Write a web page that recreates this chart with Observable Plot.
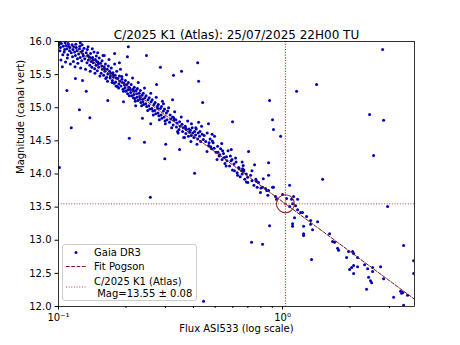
<!DOCTYPE html>
<html>
<head>
<meta charset="utf-8">
<script src="https://cdn.jsdelivr.net/npm/d3@7"></script>
<script src="https://cdn.jsdelivr.net/npm/@observablehq/plot@0.6"></script>
<style>
  body { margin: 0; background: white; }
  #wrap { position: relative; width: 460px; height: 345px; font-family: "DejaVu Sans", sans-serif; }
  #legend { position: absolute; left: 62px; top: 244px; }
</style>
</head>
<body>
<div id="wrap"></div>
<script>
// ---- text ----
const title = "C/2025 K1 (Atlas): 25/07/2025 22H00 TU";
const xLabel = "Flux ASI533 (log scale)";
const yLabel = "Magnitude (canal vert)";
const legendLabels = ["Gaia DR3", "Fit Pogson", "C/2025 K1 (Atlas)", " Mag=13.55 ± 0.08"];

// ---- ticks ----
const xMajor = [0.1, 1];
const xMajorLabels = ["10⁻¹", "10⁰"];
const xMinor = [0.2, 0.3, 0.4, 0.5, 0.6, 0.7, 0.8, 0.9, 2, 3];
const yTicks = [12, 12.5, 13, 13.5, 14, 14.5, 15, 15.5, 16];

// ---- comet ----
const cometFlux = 1.03;
const cometMag = 13.55;
const cometErr = 0.08;

// ---- Pogson fit line (end points) ----
const fitFlux = [0.1, 3.88];
const fitMag = [16.08, 12.11];

// ---- Gaia DR3 stars: [flux, magnitude] ----
const gaiaBand = [
 [0.1005,15.95],[0.1010,15.99],[0.1020,15.91],[0.1015,15.86],[0.1030,15.97],
 [0.1050,15.93],[0.1065,15.88],[0.1070,15.98],[0.1060,15.84],[0.1080,15.94],
 [0.1090,15.89],[0.1100,15.80],[0.1110,15.93],[0.1120,15.86],[0.1105,15.97],[0.1125,15.91],
 [0.1140,15.83],[0.1150,15.95],[0.1160,15.88],[0.1155,15.77],[0.1170,15.92],
 [0.1180,15.84],[0.1190,15.79],[0.1200,15.91],[0.1210,15.86],[0.1215,15.74],[0.1195,15.96],
 [0.1230,15.81],[0.1240,15.89],[0.1250,15.76],[0.1245,15.93],[0.1260,15.84],
 [0.1270,15.71],[0.1280,15.86],[0.1290,15.78],[0.1300,15.90],[0.1310,15.74],[0.1285,15.81],
 [0.1330,15.83],[0.1340,15.68],[0.1350,15.79],[0.1360,15.72],[0.1345,15.88],
 [0.1370,15.77],[0.1380,15.64],[0.1390,15.82],[0.1400,15.70],[0.1395,15.75],
 [0.1410,15.61],[0.1420,15.76],[0.1430,15.68],[0.1440,15.84],[0.1425,15.72],
 [0.1450,15.59],[0.1460,15.73],[0.1470,15.64],[0.1480,15.70],[0.1475,15.78],
 [0.1490,15.56],[0.1500,15.69],[0.1510,15.61],[0.1520,15.75],[0.1505,15.66],
 [0.1540,15.67],[0.1550,15.52],[0.1560,15.63],[0.1570,15.58],[0.1565,15.71],
 [0.1590,15.49],[0.1600,15.62],[0.1610,15.55],[0.1620,15.66],[0.1605,15.59],
 [0.1640,15.46],[0.1650,15.58],[0.1660,15.51],[0.1670,15.63],[0.1655,15.40],
 [0.1690,15.55],[0.1700,15.45],[0.1710,15.52],[0.1720,15.60],[0.1705,15.48],
 [0.1740,15.41],[0.1750,15.53],[0.1760,15.46],[0.1770,15.37],[0.1755,15.50],
 [0.1790,15.49],[0.1800,15.39],[0.1810,15.45],[0.1820,15.55],[0.1805,15.33],
 [0.1840,15.44],[0.1860,15.36],[0.1870,15.48],[0.1880,15.40],[0.1855,15.30],
 [0.1900,15.33],[0.1920,15.43],[0.1930,15.38],[0.1940,15.28],[0.1915,15.47],
 [0.1960,15.37],[0.1980,15.30],[0.1990,15.41],[0.2000,15.25],[0.1975,15.34],
 [0.2020,15.35],[0.2040,15.27],[0.2050,15.38],[0.2060,15.31],[0.2035,15.21],
 [0.2080,15.30],[0.2100,15.23],[0.2110,15.35],[0.2120,15.18],[0.2095,15.27],
 [0.2150,15.28],[0.2170,15.20],[0.2180,15.31],[0.2190,15.14],[0.2165,15.25],
 [0.2220,15.26],[0.2240,15.16],[0.2250,15.29],[0.2260,15.11],[0.2235,15.21],
 [0.2290,15.22],[0.2310,15.13],[0.2320,15.26],[0.2330,15.08],[0.2305,15.17],
 [0.2360,15.19],[0.2380,15.09],[0.2390,15.22],[0.2400,15.05],[0.2375,15.13],
 [0.2430,15.15],[0.2450,15.06],[0.2460,15.18],[0.2475,15.02],
 [0.2510,15.12],[0.2530,15.03],[0.2540,15.15],[0.2555,14.98],
 [0.2590,15.09],[0.2610,14.99],[0.2620,15.12],[0.2635,14.95],
 [0.2670,15.05],[0.2690,14.96],[0.2700,15.08],[0.2715,14.91],
 [0.2760,15.02],[0.2780,14.92],[0.2790,15.05],[0.2805,14.88],
 [0.2850,14.99],[0.2870,14.89],[0.2880,15.02],[0.2895,14.84],
 [0.2940,14.95],[0.2960,14.86],[0.2975,14.98],[0.2990,14.80],
 [0.3030,14.92],[0.3050,14.82],[0.3070,14.95],
 [0.3130,14.78],[0.3150,14.89],[0.3170,14.83],
 [0.3230,14.86],[0.3250,14.74],[0.3270,14.81],
 [0.3340,14.82],[0.3360,14.71],[0.3380,14.77],
 [0.3450,14.67],[0.3470,14.79],[0.3490,14.72],
 [0.3560,14.75],[0.3580,14.64],[0.3600,14.70],
 [0.3680,14.72],[0.3700,14.61],[0.3720,14.67],
 [0.3800,14.57],[0.3820,14.68],[0.3840,14.63],
 [0.388,14.66],[0.391,14.58],[0.395,14.70],[0.397,14.62],[0.402,14.55],[0.405,14.64],[0.409,14.59],[0.412,14.68],
 [0.418,14.53],[0.420,14.62],[0.426,14.57],[0.431,14.49],[0.438,14.60],[0.443,14.52],[0.392,14.76],[0.410,14.70],
 [0.428,14.64],[0.447,14.58],
 [0.454,14.49],[0.461,14.62],[0.468,14.43],[0.475,14.53],[0.482,14.38],[0.490,14.47],[0.497,14.57],[0.505,14.33],
 [0.513,14.42],[0.521,14.27],[0.529,14.38],[0.537,14.22],[0.545,14.31],[0.553,14.16],[0.562,14.26],[0.571,14.35],
 [0.580,14.12],[0.589,14.20],[0.598,14.06],[0.607,14.15],[0.617,14.24],[0.627,14.02],[0.637,14.10],[0.647,13.96],
 [0.657,14.05],[0.667,14.13],[0.678,13.92],[0.689,14.00],[0.700,13.87],
 [0.470,14.47],[0.478,14.41],[0.486,14.50],[0.495,14.39],[0.515,14.33],[0.525,14.29],[0.540,14.35],[0.550,14.25],
 [0.565,14.20],[0.585,14.27],[0.595,14.22],[0.610,14.05],[0.620,14.18],[0.640,14.08],[0.660,14.00],[0.672,14.06],
 [0.663,14.08],[0.670,14.04],[0.698,13.95],[0.720,13.98],[0.765,13.89],[0.781,13.87],[0.814,13.80],[0.839,13.78],
 [0.911,13.80],[0.866,13.75],[0.940,13.62],[0.730,13.90],[0.745,13.83],[0.760,13.92],[0.800,13.79],[0.850,13.75]
];
const gaiaBandWide = [
 [0.1025,15.72],[0.1045,15.80],[0.1075,15.69],[0.1095,15.75],[0.1130,15.66],[0.1165,15.70],[0.1185,15.62],[0.1220,15.67],
 [0.1255,15.60],[0.1275,15.95],[0.1320,15.58],[0.1355,15.92],[0.1385,15.55],[0.1415,15.89],[0.1455,15.52],[0.1495,15.83],
 [0.1530,15.48],[0.1580,15.79],[0.1625,15.44],[0.1680,15.73],[0.1735,15.38],[0.1780,15.66],[0.1830,15.32],[0.1890,15.58],
 [0.1950,15.25],[0.2010,15.50],[0.2070,15.18],[0.2140,15.45],[0.2200,15.10],[0.2270,15.38],[0.2350,15.03],[0.2420,15.30],
 [0.2500,14.96],[0.2580,15.22],[0.2650,14.89],[0.2730,15.16],[0.2820,14.82],[0.2910,15.10],[0.3000,14.76],[0.3100,15.00],
 [0.3200,14.70],[0.3300,14.94],[0.3420,14.62],[0.3530,14.86],[0.3650,14.55],[0.3770,14.80],[0.3900,14.49],[0.4150,14.45],
 [0.4350,14.72],[0.4600,14.34],[0.4850,14.60],[0.5100,14.22],[0.5350,14.46],[0.5600,14.12],[0.5900,14.37],[0.6300,13.98],
 [0.6600,14.18],[0.6900,13.88],[0.7300,14.05],[0.7700,13.80],[0.8200,13.93],[0.8600,13.68]
];
const gaiaNearComet = [
 [0.902,13.80],[0.930,13.66],[1.000,13.69],[1.042,13.63],[1.097,13.62],[1.120,13.66],[1.167,13.62],[1.108,13.55],
 [1.075,13.51],[1.143,13.52],[1.167,13.46],[1.203,13.42],[1.228,13.42],[1.131,13.34],[1.280,13.36],[1.108,13.25],
 [1.108,13.21],[1.241,13.21],[1.334,13.30],[1.334,13.24],[1.433,13.28],[1.361,13.16],[1.241,13.10],[1.241,13.07]
];
const gaiaRight = [
 [1.621,13.10],[1.672,12.98],[1.707,12.97],[1.760,12.88],[1.778,12.85],[1.931,12.74],[1.971,12.83],[2.054,12.83],
 [2.075,12.80],[2.162,12.74],[1.991,12.56],[2.033,12.59],[2.075,12.62],[2.162,12.60],[2.075,12.50],[2.323,12.63],
 [2.397,12.57],[2.522,12.59],[2.522,12.53],[2.738,12.60],[2.421,12.44],[2.470,12.39],[2.497,12.36],[2.825,12.42],
 [2.371,12.26],[3.130,12.14],[3.364,12.23],[3.400,12.20],[3.440,12.21],[3.614,12.17],[3.470,12.02]
];
const gaiaOutliers = [
 [0.125,15.98],[0.205,15.92],[0.203,15.77],[0.247,15.79],[0.178,15.82],[0.160,15.79],[0.187,15.68],[0.285,15.61],
 [0.326,15.49],[0.354,15.55],[0.104,15.62],[0.109,15.26],[0.119,15.44],[0.128,15.41],[0.133,15.25],[0.166,15.11],
 [0.138,14.85],[0.124,14.97],[0.114,14.70],[0.207,14.54],[0.242,14.48],[0.301,14.45],[0.347,14.37],[0.298,14.23],
 [0.195,15.09],[0.221,15.03],[0.237,14.84],[0.258,14.76],[0.277,14.99],[0.294,15.06],[0.323,15.12],[0.327,14.85],
 [0.340,14.64],[0.369,14.70],[0.362,14.55],[0.101,14.10],[0.257,13.65],[0.444,12.08],[0.274,15.35],[0.216,15.15],
 [0.418,15.68],[0.422,15.40],[0.440,15.08],[0.422,14.78],[0.467,14.76],[0.598,14.79],[0.705,14.34],[0.875,15.11],
 [0.902,14.82],[0.911,14.67],[0.980,14.57],[0.405,14.01],[0.750,14.14],[0.866,14.17],[0.866,13.98],[0.797,13.72],
 [0.875,13.22],[0.727,12.97],[0.814,12.94],[1.155,15.25],[1.418,15.35],[2.796,15.88],[2.445,14.90],[2.825,14.81],
 [2.548,14.28],[1.509,13.92],[2.943,13.51],[3.470,12.92],[3.845,12.69],[3.845,12.50],[1.347,12.71],[1.075,13.83]
];

const gaiaStars = [...gaiaBand, ...gaiaBandWide, ...gaiaNearComet, ...gaiaRight, ...gaiaOutliers];
const fitData = fitFlux.map((f, i) => ({f, m: fitMag[i]}));
const comet = [{f: cometFlux, m: cometMag}];

const xLabelMap = new Map(xMajor.map((v, i) => [v, xMajorLabels[i]]));
const fitColor = "#7a1c1c";
const dotColor = "#b8443a";

const chart = Plot.plot({
  width: 460,
  height: 345,
  marginLeft: 58,
  marginRight: 46,
  marginTop: 41,
  marginBottom: 39,
  x: {type: "log", domain: [0.1, 3.88]},
  y: {domain: [12, 16]},
  style: {fontFamily: "DejaVu Sans", fontSize: "10px", color: "black", background: "white"},
  marks: [
    Plot.dot(gaiaStars, {x: d => d[0], y: d => d[1], r: 1.5, fill: "#0000b4", clip: true}),
    Plot.line(fitData, {x: "f", y: "m", stroke: fitColor, strokeWidth: 1, strokeDasharray: "3.7,1.6", clip: true}),
    Plot.ruleX([cometFlux], {stroke: dotColor, strokeWidth: 1.2, strokeDasharray: "1.2,1.5"}),
    Plot.ruleY([cometMag], {stroke: dotColor, strokeWidth: 1, strokeDasharray: "1,1.65"}),
    Plot.dot(comet, {x: "f", y: "m", r: 9, stroke: "#8b2a2a", strokeWidth: 1.1, fill: "none"}),
    Plot.dot(comet, {x: "f", y: "m", r: 1.3, fill: "#a52a2a"}),
    Plot.frame({stroke: "black", strokeWidth: 0.8}),
    Plot.axisX(xMajor, {tickSize: 3.5, tickPadding: 3.5, tickFormat: d => xLabelMap.get(d), label: null}),
    Plot.axisX(xMinor, {tickSize: 2, tickFormat: () => "", label: null}),
    Plot.axisY(yTicks, {tickSize: 3.5, tickPadding: 3.5, tickFormat: d3.format(".1f"), label: null}),
    Plot.text([title], {frameAnchor: "top", dy: -11, fontSize: 12}),
    Plot.text([xLabel], {frameAnchor: "bottom", dy: 25}),
    Plot.text([yLabel], {frameAnchor: "left", dx: -38, rotate: -90})
  ]
});
document.getElementById("wrap").appendChild(chart);

// ---- legend ----
const ns = "http://www.w3.org/2000/svg";
const lg = document.createElementNS(ns, "svg");
lg.setAttribute("id", "legend");
lg.setAttribute("width", 135);
lg.setAttribute("height", 57);
lg.innerHTML = `
  <rect x="0.5" y="0.5" width="134" height="56" rx="2.5" fill="rgba(255,255,255,0.8)" stroke="#cccccc" stroke-width="1"/>
  <circle cx="14" cy="8.5" r="1.5" fill="#0000b4"/>
  <line x1="4" x2="24" y1="22.5" y2="22.5" stroke="${fitColor}" stroke-width="1" stroke-dasharray="3.7,1.6"/>
  <line x1="4" x2="24" y1="43" y2="43" stroke="${dotColor}" stroke-width="1" stroke-dasharray="1,1.65"/>
  <g font-family="DejaVu Sans" font-size="10" fill="black" dominant-baseline="central">
    <text x="32" y="8.5">${legendLabels[0]}</text>
    <text x="32" y="22.5">${legendLabels[1]}</text>
    <text x="32" y="37">${legendLabels[2]}</text>
    <text x="32" y="49" xml:space="preserve">${legendLabels[3]}</text>
  </g>`;
document.getElementById("wrap").appendChild(lg);
</script>
</body>
</html>
